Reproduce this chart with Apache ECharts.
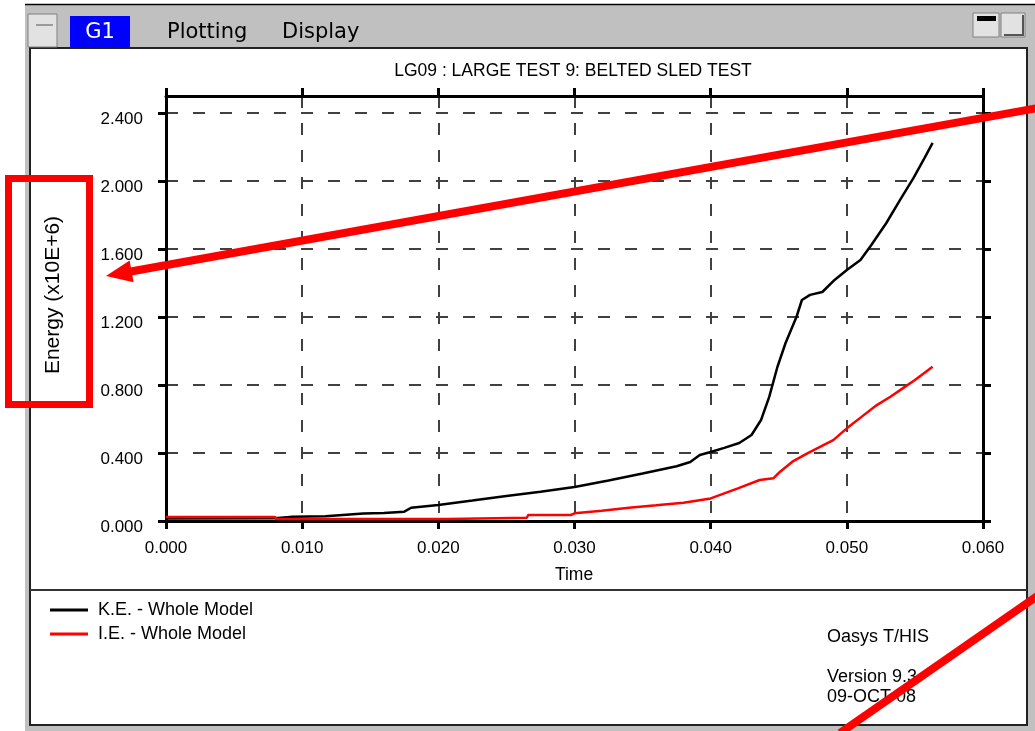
<!DOCTYPE html>
<html><head><meta charset="utf-8">
<script src="https://cdn.jsdelivr.net/npm/echarts@6/dist/echarts.min.js"></script>
<style>html,body{margin:0;padding:0;background:#fff}#c{width:1035px;height:731px}</style>
</head><body><div id="c"></div>
<script>
// ---- data ----
const chartTitle = 'LG09 : LARGE TEST 9: BELTED SLED TEST';
const seriesNames = ['K.E. - Whole Model', 'I.E. - Whole Model'];
const keTime  = [0, 0.008, 0.0093, 0.0117, 0.0118, 0.0145, 0.0160, 0.0175, 0.0180, 0.020, 0.0225, 0.025, 0.0275, 0.030, 0.0325, 0.035, 0.0375, 0.0385, 0.0392, 0.040, 0.041, 0.0421, 0.043, 0.0437, 0.0443, 0.0449, 0.0455, 0.0463, 0.0467, 0.0473, 0.0482, 0.0491, 0.050, 0.051, 0.0518, 0.0529, 0.0539, 0.0549, 0.0557, 0.0563];
const keValue = [0.015, 0.016, 0.025, 0.028, 0.035, 0.044, 0.047, 0.055, 0.078, 0.094, 0.12, 0.147, 0.172, 0.20, 0.238, 0.279, 0.322, 0.347, 0.388, 0.406, 0.43, 0.459, 0.506, 0.594, 0.73, 0.906, 1.047, 1.2, 1.3, 1.33, 1.347, 1.418, 1.476, 1.535, 1.624, 1.753, 1.888, 2.018, 2.135, 2.224];
const ieTime  = [0, 0.0080, 0.0081, 0.0207, 0.0208, 0.0265, 0.0266, 0.0297, 0.030, 0.032, 0.034, 0.036, 0.038, 0.040, 0.042, 0.0436, 0.0446, 0.0451, 0.046, 0.0471, 0.049, 0.050, 0.0511, 0.0522, 0.0532, 0.0541, 0.055, 0.0563];
const ieValue = [0.024, 0.024, 0.012, 0.012, 0.019, 0.019, 0.035, 0.035, 0.045, 0.06, 0.078, 0.092, 0.108, 0.133, 0.192, 0.241, 0.251, 0.29, 0.349, 0.398, 0.476, 0.545, 0.614, 0.682, 0.731, 0.78, 0.829, 0.907];
const xTickValues = [0, 0.01, 0.02, 0.03, 0.04, 0.05, 0.06];
const yTickValues = [0, 0.4, 0.8, 1.2, 1.6, 2.0, 2.4];
const yMax = 2.5;
const footerLines = ['Oasys T/HIS', 'Version 9.3', '09-OCT-08'];
const menuItems = ['G1', 'Plotting', 'Display'];
const yName = 'Energy (x10E+6)';
const xName = 'Time';

// ---- styles ----
const F = '"Liberation Sans", Arial, sans-serif';
const MF = '"DejaVu Sans", sans-serif';
const gridLine = { show: true, lineStyle: { color: '#404040', width: 2, type: [12, 15] } };
const axLine = { show: true, onZero: false, lineStyle: { color: '#000', width: 3 } };
const axTick = { show: true, inside: false, length: 8, lineStyle: { color: '#000', width: 3 } };

const chart = echarts.init(document.getElementById('c'), null, { renderer: 'canvas' });

function txt(text, x, y, size, opts) {
  return Object.assign({
    type: 'text', x: x, y: y, z: 5,
    style: Object.assign({ text: text, fill: '#000', font: size + 'px ' + F, textAlign: 'left', textVerticalAlign: 'middle' }, (opts && opts.style) || {})
  }, (opts && opts.el) || {});
}

const graphics = [
  // window frame
  { type: 'rect', z: -10, shape: { x: 25, y: 4, width: 1010, height: 727 }, style: { fill: '#c0c0c0' } },
  { type: 'line', z: -9, shape: { x1: 25, y1: 4.5, x2: 1035, y2: 4.5 }, style: { stroke: '#000', lineWidth: 1.5 } },
  { type: 'rect', z: -9, shape: { x: 30, y: 48, width: 997, height: 677 }, style: { fill: '#fff', stroke: '#222', lineWidth: 2 } },
  { type: 'line', z: -8, shape: { x1: 30, y1: 590, x2: 1027, y2: 590 }, style: { stroke: '#333', lineWidth: 2 } },
  // left button
  { type: 'rect', z: -8, shape: { x: 28, y: 14, width: 29, height: 33 }, style: { fill: '#e2e2e2', stroke: '#808080', lineWidth: 1 } },
  { type: 'line', z: -7, shape: { x1: 36, y1: 25, x2: 53, y2: 25 }, style: { stroke: '#555', lineWidth: 1 } },
  // right buttons
  { type: 'rect', z: -8, shape: { x: 973, y: 13, width: 26, height: 24 }, style: { fill: '#e2e2e2', stroke: '#808080', lineWidth: 1 } },
  { type: 'rect', z: -7, shape: { x: 977, y: 16, width: 19, height: 5 }, style: { fill: '#000' } },
  { type: 'rect', z: -8, shape: { x: 1001, y: 13, width: 24, height: 24 }, style: { fill: '#e2e2e2', stroke: '#808080', lineWidth: 1 } },
  { type: 'polyline', z: -7, shape: { points: [[1004, 35], [1023, 35], [1023, 15]] }, style: { stroke: '#555', lineWidth: 2, fill: null } },
  // menu
  { type: 'rect', z: -8, shape: { x: 70, y: 16, width: 60, height: 32 }, style: { fill: '#0000ff' } },
  { type: 'text', z: -7, x: 100, y: 33, style: { text: menuItems[0], fill: '#fff', font: '21px ' + MF, textAlign: 'center', textVerticalAlign: 'middle' } },
  { type: 'text', z: -7, x: 167, y: 33, style: { text: menuItems[1], fill: '#000', font: '21px ' + MF, textAlign: 'left', textVerticalAlign: 'middle' } },
  { type: 'text', z: -7, x: 282, y: 33, style: { text: menuItems[2], fill: '#000', font: '21px ' + MF, textAlign: 'left', textVerticalAlign: 'middle' } },
  // chart texts
  txt(chartTitle, 573, 71, 17.5, { style: { textAlign: 'center' } }),
  txt(xName, 574, 575, 17.5, { style: { textAlign: 'center' } }),
  txt(yName, 53, 295, 21, { style: { textAlign: 'center' }, el: { rotation: Math.PI / 2 } }),
  txt(footerLines[0], 827, 637, 18),
  txt(footerLines[1], 827, 677, 18),
  txt(footerLines[2], 827, 697, 18),
  // red annotations
  { type: 'rect', z: 100, shape: { x: 8.5, y: 178.5, width: 81, height: 226 }, style: { fill: null, stroke: '#ff0000', lineWidth: 7 } },
  { type: 'line', z: 100, shape: { x1: 1040, y1: 107.6, x2: 128, y2: 272 }, style: { stroke: '#ff0000', lineWidth: 8 } },
  { type: 'polygon', z: 100, shape: { points: [[106, 276], [129.6, 260.6], [133.6, 282.2]] }, style: { fill: '#ff0000' } },
  { type: 'line', z: 100, shape: { x1: 1040, y1: 594.2, x2: 840, y2: 733 }, style: { stroke: '#ff0000', lineWidth: 8 } }
];

const option = {
  backgroundColor: '#fff',
  animation: false,
  grid: { left: 166, right: 52, top: 96, bottom: 210, containLabel: false },
  legend: {
    left: 50, top: 601, padding: 0, orient: 'vertical', icon: 'rect', itemWidth: 38, itemHeight: 3, itemGap: 6,
    data: seriesNames,
    textStyle: { fontSize: 18, fontFamily: F, color: '#000', lineHeight: 17, padding: [0, 0, 0, 5] }
  },
  xAxis: [
    { type: 'value', position: 'bottom', min: 0, max: 0.06, interval: 0.01,
      axisLine: axLine, axisTick: axTick, splitLine: gridLine,
      axisLabel: { fontSize: 17, fontFamily: F, color: '#000', margin: 19, formatter: v => v.toFixed(3) } },
    { type: 'value', position: 'top', min: 0, max: 0.06, interval: 0.01,
      axisLine: axLine, axisTick: axTick, splitLine: { show: false }, axisLabel: { show: false } }
  ],
  yAxis: [
    { type: 'value', position: 'left', min: 0, max: yMax, interval: 0.4,
      axisLine: axLine, axisTick: Object.assign({ customValues: yTickValues }, axTick), splitLine: gridLine,
      axisLabel: { customValues: yTickValues, fontSize: 17, fontFamily: F, color: '#000', margin: 23, verticalAlign: 'top', lineHeight: 13,
        formatter: v => (v > 2.45 ? '' : v.toFixed(3)) } },
    { type: 'value', position: 'right', min: 0, max: yMax, interval: 0.4,
      axisLine: axLine, axisTick: Object.assign({ customValues: yTickValues }, axTick), splitLine: { show: false }, axisLabel: { show: false } }
  ],
  series: [
    { name: seriesNames[0], type: 'line', showSymbol: false, symbol: 'none', color: '#000',
      lineStyle: { color: '#000', width: 2.5 }, data: keTime.map((t, i) => [t, keValue[i]]), z: 3 },
    { name: seriesNames[1], type: 'line', showSymbol: false, symbol: 'none', color: '#ff0000',
      lineStyle: { color: '#ff0000', width: 2.5 }, data: ieTime.map((t, i) => [t, ieValue[i]]), z: 4 }
  ],
  graphic: graphics
};
chart.setOption(option);
</script>
</body></html>
